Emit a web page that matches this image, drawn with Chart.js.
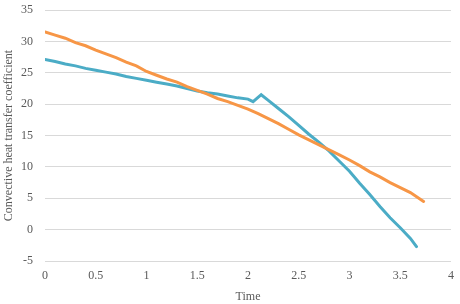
<!DOCTYPE html>
<html>
<head>
<meta charset="utf-8">
<script src="https://cdn.jsdelivr.net/npm/chart.js@4"></script>
<style>
  html, body { margin: 0; padding: 0; background: #fff; }
  #wrap { width: 460px; height: 304px; }
</style>
</head>
<body>
<div id="wrap"><canvas id="heatChart" width="460" height="304"></canvas></div>
<script>
// Time values and coefficients
const orangeTime = [0, 0.1, 0.2, 0.3, 0.4, 0.5, 0.6, 0.7, 0.8, 0.9, 1.0, 1.1, 1.2, 1.3, 1.4, 1.5, 1.6, 1.7, 1.8, 1.9,
  2.0, 2.1, 2.2, 2.3, 2.4, 2.5, 2.6, 2.7, 2.8, 2.9, 3.0, 3.1, 3.2, 3.3, 3.4, 3.5, 3.6, 3.73];
const orangeValues = [31.5, 31.0, 30.5, 29.8, 29.3, 28.6, 28.0, 27.4, 26.7, 26.1, 25.2, 24.6, 24.0, 23.5, 22.8, 22.2, 21.6, 20.9, 20.4, 19.8,
  19.2, 18.5, 17.7, 16.9, 16.0, 15.1, 14.3, 13.5, 12.7, 11.9, 11.1, 10.2, 9.2, 8.4, 7.5, 6.7, 5.9, 4.5];

const blueTime = [0, 0.1, 0.2, 0.3, 0.4, 0.5, 0.6, 0.7, 0.8, 0.9, 1.0, 1.1, 1.2, 1.3, 1.4, 1.5, 1.6, 1.7, 1.8, 1.9,
  2.0, 2.05, 2.13, 2.2, 2.3, 2.4, 2.5, 2.6, 2.7, 2.8, 2.9, 3.0, 3.1, 3.2, 3.3, 3.4, 3.5, 3.6, 3.66];
const blueValues = [27.1, 26.8, 26.4, 26.1, 25.7, 25.4, 25.1, 24.8, 24.4, 24.1, 23.8, 23.5, 23.2, 22.9, 22.5, 22.1, 21.8, 21.6, 21.3, 21.0,
  20.8, 20.4, 21.5, 20.6, 19.3, 18.0, 16.6, 15.2, 13.9, 12.5, 10.9, 9.3, 7.4, 5.6, 3.7, 1.9, 0.3, -1.4, -2.7];

const xTickValues = [0, 0.5, 1, 1.5, 2, 2.5, 3, 3.5, 4];
const yTickValues = [-5, 0, 5, 10, 15, 20, 25, 30, 35];

function toPoints(xs, ys) {
  return xs.map((x, i) => ({ x: x, y: ys[i] }));
}

const textColor = '#595959';
const gridColor = '#D9D9D9';
const serif = "'Liberation Serif', 'Times New Roman', serif";

const ctx = document.getElementById('heatChart').getContext('2d');
new Chart(ctx, {
  type: 'scatter',
  data: {
    datasets: [
      {
        label: 'Series 1',
        data: toPoints(orangeTime, orangeValues),
        showLine: true,
        borderColor: '#F79646',
        backgroundColor: '#F79646',
        borderWidth: 3,
        borderCapStyle: 'round',
        pointRadius: 0,
        tension: 0
      },
      {
        label: 'Series 2',
        data: toPoints(blueTime, blueValues),
        showLine: true,
        borderColor: '#4BACC6',
        backgroundColor: '#4BACC6',
        borderWidth: 3,
        borderCapStyle: 'round',
        pointRadius: 0,
        tension: 0
      }
    ]
  },
  options: {
    responsive: false,
    animation: false,
    layout: { padding: { top: 10, right: 9, left: 0, bottom: 0 } },
    plugins: {
      legend: { display: false },
      tooltip: { enabled: false }
    },
    scales: {
      x: {
        type: 'linear',
        min: 0,
        max: 4,
        afterBuildTicks: s => { s.ticks = xTickValues.map(v => ({ value: v })); },
        afterFit: s => { s.height = 43; s.paddingLeft = 0; s.paddingRight = 0; },
        grid: { display: false, drawTicks: false },
        border: { display: false },
        ticks: {
          padding: 8,
          color: textColor,
          font: { family: serif, size: 12 },
          maxRotation: 0,
          callback: v => String(v)
        },
        title: {
          display: true,
          text: 'Time',
          color: textColor,
          font: { family: serif, size: 12 },
          padding: { top: 2, bottom: 0 }
        }
      },
      y: {
        min: -5,
        max: 35,
        afterBuildTicks: s => { s.ticks = yTickValues.map(v => ({ value: v })); },
        afterFit: s => { s.width = 45; s.paddingTop = 0; s.paddingBottom = 0; },
        grid: { color: gridColor, lineWidth: 1, drawTicks: false },
        border: { display: false },
        ticks: {
          padding: 12,
          color: textColor,
          font: { family: serif, size: 12 },
          callback: v => String(v)
        },
        title: {
          display: true,
          text: 'Convective heat transfer coefficient',
          color: textColor,
          font: { family: serif, size: 12 },
          padding: { top: 2, bottom: 0 }
        }
      }
    }
  }
});
</script>
</body>
</html>
